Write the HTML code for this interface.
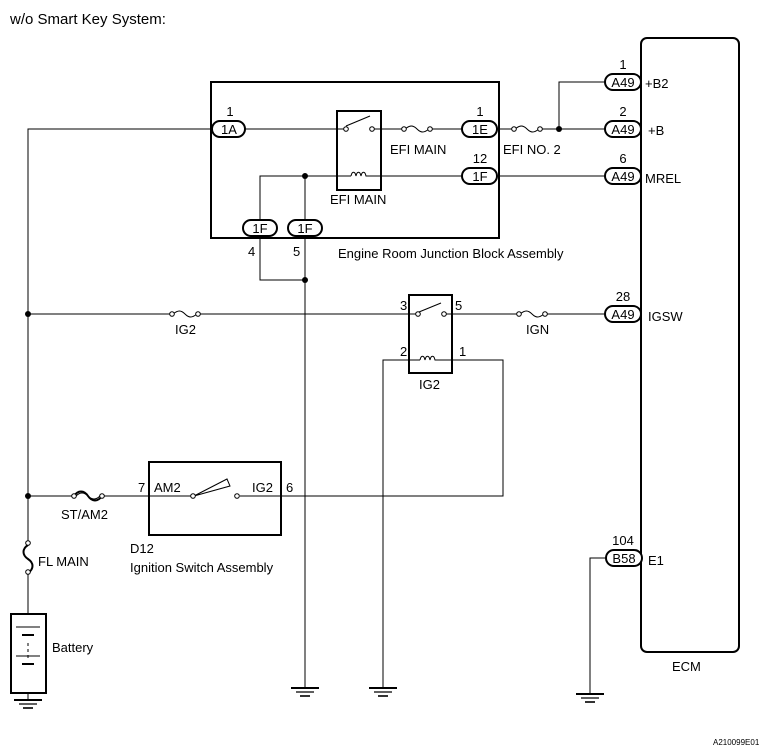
<!DOCTYPE html>
<html><head><meta charset="utf-8"><style>
html,body{margin:0;padding:0;background:#fff}
svg{display:block}
text{font-family:"Liberation Sans",Arial,sans-serif;fill:#000}
</style></head><body>
<svg width="773" height="752" viewBox="0 0 773 752" xmlns="http://www.w3.org/2000/svg">
<defs>
<g id="gnd"><line x1="-14" y1="0" x2="14" y2="0" stroke="#000" stroke-width="2"/><line x1="-9" y1="4" x2="9" y2="4" stroke="#000" stroke-width="1.2"/><line x1="-5" y1="8" x2="5" y2="8" stroke="#000" stroke-width="1.6"/></g>
</defs>
<text x="10" y="24" font-size="15">w/o Smart Key System:</text>
<g fill="none" stroke="#000" stroke-width="1">
<!-- ECM box -->
<rect x="641" y="38" width="98" height="614" rx="6" stroke-width="2"/>
<!-- Junction block -->
<rect x="211" y="82" width="288" height="156" stroke-width="2"/>
<!-- Left main wire -->
<polyline points="212,129 28,129 28,542"/>
<line x1="28" y1="573" x2="28" y2="614"/>
<!-- 1A to relay -->
<line x1="245" y1="129" x2="345" y2="129"/>
<!-- relay EFI MAIN -->
<rect x="337" y="111" width="44" height="79" stroke-width="2"/>
<line x1="346" y1="126" x2="370" y2="116"/>
<line x1="374" y1="129" x2="402" y2="129"/>
<path d="M405,129 c5,-4 8,-4 12,0 c4,4 7,4 12,0"/>
<line x1="432" y1="129" x2="462" y2="129"/>
<line x1="497" y1="129" x2="512" y2="129"/>
<path d="M515,129 c5,-4 8,-4 12,0 c4,4 7,4 12,0"/>
<line x1="542" y1="129" x2="605" y2="129"/>
<polyline points="559,129 559,82 605,82"/>
<!-- coil line -->
<polyline points="260,227 260,176 351,176"/>
<path d="M351,176 c1,-5 4,-5 5,0 c1,-5 4,-5 5,0 c1,-5 4,-5 5,0 l4,0"/>
<line x1="370" y1="176" x2="462" y2="176"/>
<line x1="497" y1="176" x2="605" y2="176"/>
<line x1="305" y1="176" x2="305" y2="688"/>
<polyline points="260,238 260,280 305,280"/>
<!-- IG2 line -->
<line x1="28" y1="314" x2="170" y2="314"/>
<path d="M173,314 c5,-4 8,-4 12,0 c4,4 7,4 12,0"/>
<line x1="200" y1="314" x2="416" y2="314"/>
<rect x="409" y="295" width="43" height="78" stroke-width="2"/>
<line x1="419" y1="312" x2="441" y2="303"/>
<line x1="444" y1="314" x2="517" y2="314"/>
<path d="M520,314 c5,-4 8,-4 12,0 c4,4 7,4 12,0"/>
<line x1="547" y1="314" x2="605" y2="314"/>
<!-- IG2 coil -->
<polyline points="383,688 383,360 420,360"/>
<path d="M420,360 c1,-5 4,-5 5,0 c1,-5 4,-5 5,0 c1,-5 4,-5 5,0 l4,0"/>
<polyline points="439,360 503,360 503,496 240,496"/>
<!-- ST/AM2 line -->
<line x1="28" y1="496" x2="74" y2="496"/>
<path d="M74,496 c4,-6 10,-6 14,0 c4,6 10,6 14,0" stroke-width="2"/>
<path d="M76,496 c4,-4 8,-4 12,0 c4,4 8,4 12,0"/>
<line x1="103" y1="496" x2="193" y2="496"/>
<rect x="149" y="462" width="132" height="73" stroke-width="2"/>
<polygon points="194,496 227,479 230,486"/>
<!-- FL MAIN vertical fuse -->
<path d="M28,545 c-6,4 -6,10 0,14 c6,4 6,10 0,14" stroke-width="2"/>
<!-- Battery -->
<rect x="11" y="614" width="35" height="79" stroke-width="2"/>
<line x1="16" y1="627" x2="40" y2="627"/>
<line x1="22" y1="635" x2="34" y2="635" stroke-width="2"/>
<line x1="28" y1="643" x2="28" y2="661" stroke-dasharray="3,3"/>
<line x1="16" y1="656" x2="40" y2="656"/>
<line x1="22" y1="664" x2="34" y2="664" stroke-width="2"/>
<line x1="28" y1="693" x2="28" y2="700"/>
<!-- B58 ground -->
<polyline points="606,558 590,558 590,694"/>
</g>
<!-- fuse terminals and switch contacts -->
<g fill="#fff" stroke="#000" stroke-width="1">
<circle cx="404" cy="129" r="2.3"/><circle cx="430" cy="129" r="2.3"/>
<circle cx="514" cy="129" r="2.3"/><circle cx="540" cy="129" r="2.3"/>
<circle cx="346" cy="129" r="2.3"/><circle cx="372" cy="129" r="2.3"/>
<circle cx="172" cy="314" r="2.3"/><circle cx="198" cy="314" r="2.3"/>
<circle cx="519" cy="314" r="2.3"/><circle cx="545" cy="314" r="2.3"/>
<circle cx="418" cy="314" r="2.3"/><circle cx="444" cy="314" r="2.3"/>
<circle cx="74" cy="496" r="2.3"/><circle cx="102" cy="496" r="2.3"/>
<circle cx="193" cy="496" r="2.3"/><circle cx="237" cy="496" r="2.3"/>
<circle cx="28" cy="543" r="2.3"/><circle cx="28" cy="572" r="2.3"/>
</g>
<g fill="#000">
<circle cx="559" cy="129" r="3"/><circle cx="305" cy="176" r="3"/><circle cx="305" cy="280" r="3"/>
<circle cx="28" cy="314" r="3"/><circle cx="28" cy="496" r="3"/>
</g>
<use href="#gnd" x="28" y="700"/><use href="#gnd" x="305" y="688"/><use href="#gnd" x="383" y="688"/><use href="#gnd" x="590" y="694"/>
<!-- connectors -->
<g stroke="#000" stroke-width="2" fill="#fff">
<rect x="212" y="121" width="33" height="16" rx="8"/>
<rect x="462" y="121" width="35" height="16" rx="8"/>
<rect x="462" y="168" width="35" height="16" rx="8"/>
<rect x="243" y="220" width="34" height="16" rx="8"/>
<rect x="288" y="220" width="34" height="16" rx="8"/>
<rect x="605" y="74" width="36" height="16" rx="8"/>
<rect x="605" y="121" width="36" height="16" rx="8"/>
<rect x="605" y="168" width="36" height="16" rx="8"/>
<rect x="605" y="306" width="36" height="16" rx="8"/>
<rect x="606" y="550" width="36" height="16" rx="8"/>
</g>
<g font-size="13" text-anchor="middle">
<text x="229" y="134">1A</text><text x="230" y="116">1</text>
<text x="480" y="134">1E</text><text x="480" y="116">1</text>
<text x="480" y="181">1F</text><text x="480" y="163">12</text>
<text x="260" y="233">1F</text><text x="305" y="233">1F</text>
<text x="623" y="87">A49</text><text x="623" y="69">1</text>
<text x="623" y="134">A49</text><text x="623" y="116">2</text>
<text x="623" y="181">A49</text><text x="623" y="163">6</text>
<text x="623" y="319">A49</text><text x="623" y="301">28</text>
<text x="624" y="563">B58</text><text x="623" y="545">104</text>
</g>
<g font-size="13">
<text x="645" y="88">+B2</text><text x="648" y="135">+B</text>
<text x="645" y="183">MREL</text><text x="648" y="321">IGSW</text><text x="648" y="565">E1</text>
<text x="672" y="671">ECM</text>
<text x="390" y="154">EFI MAIN</text><text x="503" y="154">EFI NO. 2</text>
<text x="330" y="204">EFI MAIN</text>
<text x="248" y="256">4</text><text x="293" y="256">5</text>
<text x="338" y="258">Engine Room Junction Block Assembly</text>
<text x="175" y="334">IG2</text>
<text x="400" y="310">3</text><text x="455" y="310">5</text>
<text x="400" y="356">2</text><text x="459" y="356">1</text>
<text x="419" y="389">IG2</text>
<text x="526" y="334">IGN</text>
<text x="138" y="492">7</text><text x="154" y="492">AM2</text>
<text x="252" y="492">IG2</text><text x="286" y="492">6</text>
<text x="61" y="519">ST/AM2</text>
<text x="38" y="566">FL MAIN</text>
<text x="130" y="553">D12</text><text x="130" y="572">Ignition Switch Assembly</text>
<text x="52" y="652">Battery</text>
</g>
<text x="713" y="745" font-size="8">A210099E01</text>
</svg>
</body></html>
